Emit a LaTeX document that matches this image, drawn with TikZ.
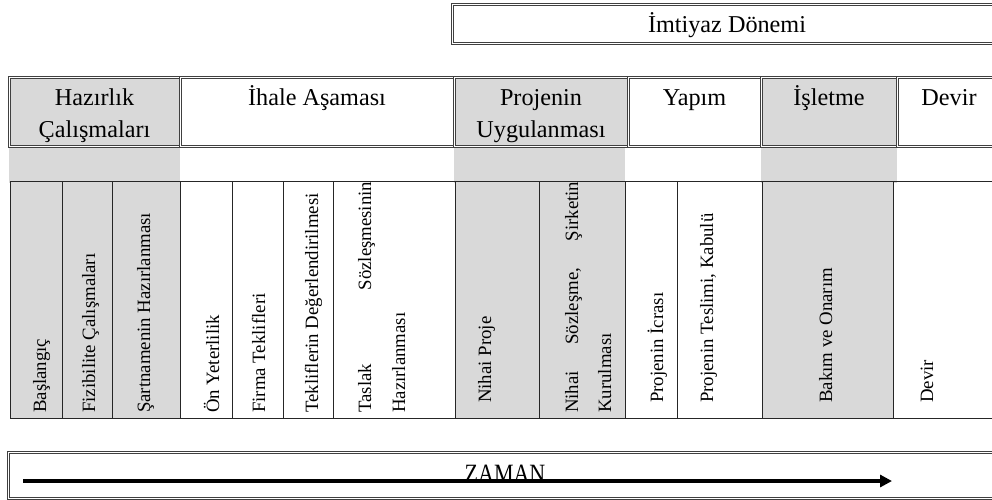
\documentclass[tikz,border=0pt]{standalone}
\usepackage{fontspec}
\setmainfont{Liberation Serif}
\usetikzlibrary{arrows.meta}
\definecolor{cellgray}{HTML}{D9D9D9}
\tikzset{
  dbl/.style={draw=black!75, double=white, double distance=1.3pt, line width=0.75pt},
  hcell/.style={dbl, inner sep=0pt, anchor=north west, minimum height=69pt},
  lcell/.style={draw=black!85, line width=0.9pt, inner sep=0pt, outer sep=0pt, anchor=north west, minimum height=237pt},
  band/.style={fill=cellgray, inner sep=0pt, outer sep=0pt, anchor=north west, minimum height=35pt},
  gfill/.style={fill=cellgray},
  htext/.style={font=\fontsize{24.2}{32}\selectfont, inner sep=0pt, anchor=base},
  vtext/.style={font=\fontsize{18.8}{22}\selectfont, inner sep=0pt, rotate=90, anchor=base west}
}
\begin{document}
\begin{tikzpicture}[x=1pt,y=-1pt]
\useasboundingbox (0,0) rectangle (992,499);

% top box
\node[hcell, minimum width=550pt, minimum height=39pt] (imt) at (452,4) {};
\node[htext] (imtt) at (727,32) {İmtiyaz Dönemi};

% header cells
\node[hcell, gfill, minimum width=171pt] (hz) at (9,77) {};
\node[hcell, minimum width=274pt] (ih) at (180,77) {};
\node[hcell, gfill, minimum width=174pt] (pu) at (454,77) {};
\node[hcell, minimum width=133pt] (yp) at (628,77) {};
\node[hcell, gfill, minimum width=136pt] (is) at (761,77) {};
\node[hcell, minimum width=110pt] (dv) at (897,77) {};

\node[htext] (hz1) at (94.5,105) {Hazırlık};
\node[htext] (hz2) at (94.5,137) {Çalışmaları};
\node[htext] (iht) at (317,105) {İhale Aşaması};
\node[htext] (pu1) at (541,105) {Projenin};
\node[htext] (pu2) at (541,137) {Uygulanması};
\node[htext] (ypt) at (694.5,105) {Yapım};
\node[htext] (ist) at (829,105) {İşletme};
\node[htext] (dvt) at (949,105) {Devir};

% gray band
\node[band, minimum width=171pt] (b1) at (9,148) {};
\node[band, minimum width=171pt] (b2) at (454,148) {};
\node[band, minimum width=136pt] (b3) at (761,148) {};

% lower cells
\node[lcell, gfill, minimum width=52pt] (c1) at (10,181) {};
\node[lcell, gfill, minimum width=50pt] (c2) at (62,181) {};
\node[lcell, gfill, minimum width=68pt] (c3) at (112,181) {};
\node[lcell, minimum width=52pt] (c4) at (180,181) {};
\node[lcell, minimum width=51pt] (c5) at (232,181) {};
\node[lcell, minimum width=50pt] (c6) at (283,181) {};
\node[lcell, minimum width=122pt] (c7) at (333,181) {};
\node[lcell, gfill, minimum width=84pt] (c8) at (455,181) {};
\node[lcell, gfill, minimum width=86pt] (c9) at (539,181) {};
\node[lcell, minimum width=52pt] (c10) at (625,181) {};
\node[lcell, minimum width=85pt] (c11) at (677,181) {};
\node[lcell, gfill, minimum width=131pt] (c12) at (762,181) {};
\node[lcell, minimum width=112pt] (c13) at (893,181) {};

% vertical texts
\node[vtext] (t1) at (46,413) {Başlangıç};
\node[vtext] (t2) at (95,413) {Fizibilite Çalışmaları};
\node[vtext] (t3) at (150,413) {Şartnamenin Hazırlanması};
\node[vtext] (t4) at (219,413) {Ön Yeterlilik};
\node[vtext] (t5) at (265,413) {Firma Teklifleri};
\node[vtext] (t6) at (318,413) {Tekliflerin Değerlendirilmesi};
\node[vtext] (t7a) at (371,413) {\hbox to 231pt{Taslak\hfill Sözleşmesinin}};
\node[vtext] (t7b) at (405,413) {Hazırlanması};
\node[vtext] (t8) at (491,403) {Nihai Proje};
\node[vtext] (t9a) at (578,413) {\hbox to 231pt{Nihai\hfill Sözleşme,\hfill Şirketin}};
\node[vtext] (t9b) at (611,413) {Kurulması};
\node[vtext] (t10) at (663,403) {Projenin İcrası};
\node[vtext] (t11) at (713,403) {Projenin Teslimi, Kabulü};
\node[vtext] (t12) at (832,403) {Bakım ve Onarım};
\node[vtext] (t13) at (933,403) {Devir};

% time box
\node[hcell, minimum width=994pt, minimum height=46pt] (zb) at (8,452) {};
\node[htext, font=\fontsize{22}{26}\selectfont, yscale=1.2, transform shape] (zt) at (505,482) {ZAMAN};
\coordinate (za) at (23,481);
\coordinate (zz) at (892,481);
\draw[line width=4pt, -{Triangle[length=12pt,width=12pt]}] (za) -- (zz);
\end{tikzpicture}
\end{document}
